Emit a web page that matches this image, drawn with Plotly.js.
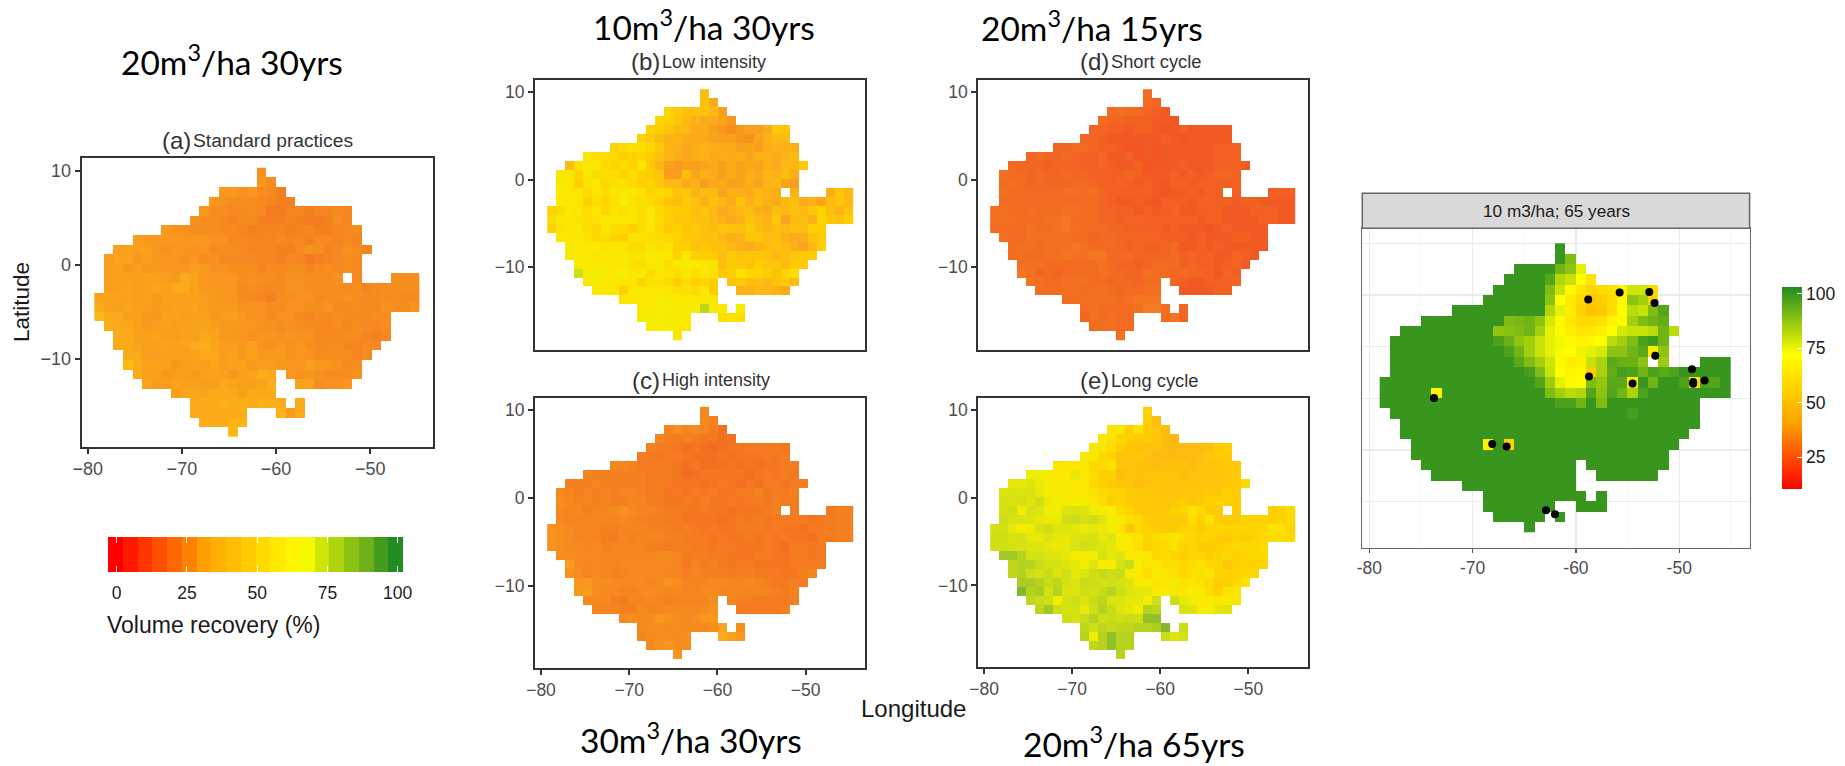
<!DOCTYPE html>
<html><head><meta charset="utf-8">
<script src="https://cdn.plot.ly/plotly-3.0.1.min.js"></script>
<style>html,body{margin:0;padding:0;background:#fff}#chart{width:1845px;height:766px}</style>
</head><body><div id="chart"></div>
<script>
// Occupied columns per row (top to bottom) on the 34 x 28 grid of tiles
const rowSpans=[[[17,17]],[[17,18]],[[13,19]],[[12,20]],[[11,26]],[[10,26]],[[7,27]],[[4,27]],[[2,28]],[[1,27]],[[1,27]],[[1,25],[27,27],[31,33]],[[1,33]],[[0,33]],[[0,33]],[[0,30]],[[1,30]],[[2,30]],[[2,29]],[[3,28]],[[3,27]],[[4,18],[20,27]],[[5,18],[21,26]],[[8,18]],[[10,19],[21,21]],[[10,15],[19,21]],[[11,15]],[[14,14]]];
const rowSpansF=[[[17,17]],[[17,18]],[[13,19]],[[12,20]],[[11,26]],[[10,26]],[[7,27]],[[4,27]],[[2,28]],[[1,27]],[[1,27]],[[1,25],[27,27],[31,33]],[[1,33]],[[0,33]],[[0,33]],[[0,30]],[[1,30]],[[2,30]],[[2,29]],[[3,28]],[[3,27]],[[4,18],[20,27]],[[5,18],[21,26]],[[8,18]],[[10,19],[21,21]],[[10,16],[19,21]],[[11,15],[17,17]],[[14,14]]];

const standardRows=[
[29],[30,28],[31,31,29,30,28,27,25],[30,29,28,28,28,27,26,25,25],
[30,28,28,27,27,28,27,24,24,26,26,25,26,26,27,26],
[29,28,28,27,26,27,27,25,25,25,26,25,24,24,25,28,26],
[31,29,29,28,28,28,27,27,26,25,26,26,26,25,26,27,25,25,26,27,28],
[32,31,30,31,31,30,30,31,29,29,27,27,26,26,26,27,26,27,25,27,27,26,27,26],
[33,33,32,33,31,29,30,30,29,30,27,28,28,27,26,26,26,25,25,27,29,28,26,27,29,28,26],
[32,34,34,31,32,30,31,30,29,30,28,29,27,27,27,27,26,26,25,27,26,24,25,26,27,28,27],
[32,33,31,32,30,31,30,30,31,32,31,29,29,28,28,28,26,27,27,28,28,26,27,28,27,28,27],
[32,33,33,32,33,33,32,31,35,34,31,30,30,30,28,29,28,28,27,29,29,28,28,28,29,27,28,28,28],
[32,33,34,32,33,34,33,35,36,33,31,31,31,30,27,28,27,27,27,29,29,28,28,28,28,27,28,26,27,28,28,28,28],
[34,34,34,33,32,33,31,33,33,33,33,32,31,30,30,28,27,26,25,28,28,29,29,27,28,28,29,28,27,27,28,28,27,27],
[35,34,33,34,33,32,31,32,33,33,34,32,31,31,31,29,29,29,28,28,29,29,28,28,29,27,27,28,27,27,29,28,28,29],
[40,36,35,33,33,31,30,33,33,32,33,33,31,32,32,31,29,29,27,29,29,27,26,27,27,28,27,27,27,28,28],
[37,35,35,33,31,32,33,32,33,34,34,32,31,31,30,30,29,29,28,29,28,27,27,27,28,26,28,27,27,28],
[36,35,33,33,34,32,32,33,33,35,34,31,31,30,29,30,30,29,30,29,29,27,27,27,28,28,26,25,27],
[36,36,34,33,33,34,33,34,36,37,34,32,32,31,33,29,29,30,29,30,28,27,27,28,26,26,27,27],
[36,35,32,32,33,33,33,34,35,35,32,33,31,33,31,31,31,29,30,29,28,28,28,28,26,27],
[41,36,34,34,33,31,32,33,32,34,32,33,33,31,32,32,31,30,30,32,31,30,29,27,28],
[36,33,33,31,32,32,31,33,34,33,30,33,34,37,35,30,29,30,29,27,28,28,29],
[34,32,32,33,33,33,32,33,35,34,33,33,34,37,33,33,28,29,29,30],
[32,34,35,34,36,36,35,33,36,36,36],
[35,36,36,37,36,37,36,38,37,36,35],
[36,36,35,36,36,37,38,32,35],
[37,36,36,38,39],[41]];

const lowRows=[
[42],[43,36],[52,47,43,43,44,40,33],[53,50,46,41,38,36,36,33,30],
[51,49,46,41,41,36,36,33,30,28,31,33,33,36,47,45],
[52,47,42,38,39,36,35,35,34,33,33,30,29,34,38,41,41],
[52,55,57,56,53,47,39,38,35,37,38,37,36,36,33,34,32,37,38,38,37],
[60,57,56,55,50,52,53,48,43,39,37,35,37,38,36,37,35,37,34,38,38,36,38,42],
[41,58,62,60,55,52,56,50,60,47,39,33,31,33,32,34,36,33,35,33,35,34,37,36,41,39,47],
[60,60,52,59,55,57,56,52,57,52,48,46,32,32,42,34,38,36,33,36,34,37,35,40,38,42,37],
[62,60,50,58,60,54,57,58,54,50,52,46,40,41,36,38,32,35,35,33,34,37,34,38,40,34,32],
[63,62,61,56,60,56,60,62,60,58,51,54,52,45,46,38,42,40,34,38,37,36,40,38,37,38,37,45,40],
[63,63,60,50,56,52,58,63,58,57,55,50,45,42,48,43,38,44,40,36,45,37,42,38,36,40,42,36,38,34,42,46,40],
[52,55,60,60,56,60,53,60,56,60,57,60,53,50,48,48,42,45,40,36,38,40,42,37,36,42,40,43,40,46,50,42,38,43],
[55,62,60,58,57,58,60,60,62,60,55,60,55,50,46,47,44,43,40,38,36,38,44,40,38,46,34,41,42,38,52,46,44,50],
[52,58,60,62,57,53,60,56,55,50,56,60,53,48,50,46,47,43,42,44,45,43,47,42,39,42,40,44,42,50,50],
[63,62,60,58,53,56,52,50,58,58,57,55,53,52,47,46,44,44,40,37,38,46,45,42,42,38,36,37,44,48],
[65,63,62,63,58,60,60,55,55,60,57,58,50,50,44,47,44,44,40,38,36,38,42,44,41,37,34,40,50],
[64,65,63,60,62,60,62,58,60,63,60,62,52,62,50,48,48,42,48,44,46,46,44,40,42,45,47,48],
[62,63,62,62,60,62,58,56,62,60,56,62,63,62,60,58,42,48,47,44,50,46,46,42,48,48],
[75,66,68,62,63,66,62,63,55,60,60,57,60,56,60,58,48,50,58,54,52,48,44,52,56],
[62,63,63,60,60,60,52,58,58,55,50,55,50,52,50,45,47,42,43,40,44,48,42],
[62,62,62,50,62,63,62,62,60,57,57,55,60,48,38,38,40,40,38,36],
[60,60,62,63,66,65,63,62,62,60,60],
[63,64,66,66,65,64,66,78,64,60,68],
[68,66,66,68,66,64,57,58,57],
[65,66,66,64,62],[60]];

const highRows=[
[27],[27,25],[26,28,26,27,26,24,22],[26,25,24,25,24,23,23,22,22],
[25,24,24,23,22,23,22,21,22,23,23,24,24,24,24,23],
[24,24,23,24,24,23,22,22,22,23,22,23,23,23,24,23,24],
[26,26,25,24,24,24,24,23,22,23,22,22,22,23,22,23,22,23,23,24,24],
[26,25,25,25,25,25,25,24,24,24,23,21,22,23,23,23,23,23,22,23,24,23,24,23],
[25,25,25,26,25,25,25,25,25,24,25,24,23,23,23,22,23,24,23,22,23,22,24,24,23,24,24],
[27,26,25,26,25,26,25,26,26,25,24,25,23,24,23,24,23,24,23,23,24,24,25,23,24,24,25],
[28,27,26,26,25,26,25,25,26,26,24,24,23,23,24,23,25,23,23,24,23,24,24,23,25,24,24],
[27,26,27,25,26,26,27,29,27,26,26,25,24,24,23,23,24,23,23,22,23,23,23,24,25,24,24,25,25],
[27,26,26,26,26,26,26,27,26,25,25,25,24,24,23,23,23,23,22,23,24,23,24,23,24,24,24,24,23,24,24,25,25],
[29,28,27,26,26,26,25,25,26,26,26,25,25,25,24,25,24,23,24,23,23,24,24,24,23,24,23,23,22,24,24,24,25,25],
[29,28,27,26,26,26,25,24,26,25,26,26,26,25,25,24,24,24,23,24,23,23,24,23,24,23,24,23,23,22,24,24,25,25],
[29,28,27,27,26,27,25,26,26,26,26,25,25,24,25,25,24,24,23,24,24,23,23,23,24,23,22,24,24,23,24],
[28,28,27,27,27,26,26,26,26,26,26,27,27,26,24,25,25,24,24,23,23,23,24,24,23,23,24,24,23,24],
[32,27,26,27,26,26,27,27,27,27,27,27,26,24,26,24,25,24,23,24,24,23,23,23,23,24,24,24,24],
[29,28,26,27,26,25,26,27,27,27,27,26,26,25,26,25,25,25,24,25,25,24,24,24,23,23,25,26],
[30,31,28,28,27,27,27,27,26,27,29,28,26,26,26,27,27,26,26,27,26,25,24,24,25,24],
[31,32,28,27,27,26,26,27,28,27,26,27,26,26,27,27,26,26,26,26,26,26,25,24,25],
[27,27,27,25,24,26,26,27,26,25,26,26,26,26,28,26,25,25,24,24,24,24,25],
[26,26,26,25,25,27,26,26,27,27,27,27,28,29,24,24,24,24,24,25],
[27,28,27,28,30,29,28,27,28,30,30],
[27,28,28,27,28,27,27,27,28,34,28],
[26,27,28,28,27,28,36,33,30],
[27,29,30,28,28],[29]];

const shortRows=[
[21],[21,20],[21,22,21,21,20,19,18],[21,20,20,19,19,19,18,18,17],
[20,20,19,19,18,19,19,18,17,18,19,18,18,18,18,18],
[20,20,19,18,18,18,18,18,18,19,18,17,18,18,18,18,18],
[20,20,21,21,20,19,19,18,17,17,18,17,18,18,18,18,18,18,19,19,19],
[20,21,20,20,21,20,19,19,20,18,18,19,17,18,17,18,18,18,18,18,18,19,19,19],
[21,20,20,20,19,20,20,20,19,19,20,19,18,18,19,17,18,18,18,19,18,18,18,19,19,19,18],
[22,21,21,20,21,20,20,21,20,20,19,19,19,19,20,19,18,18,18,19,18,19,18,19,20,20,19],
[21,22,21,20,21,20,20,20,21,21,20,19,19,20,19,18,19,18,17,19,19,18,19,19,19,19,19],
[22,21,21,21,21,21,21,22,22,21,22,20,19,19,19,19,19,18,17,18,18,19,18,19,19,19,19,19,19],
[21,21,21,21,21,21,21,21,21,21,21,20,19,18,18,19,18,17,19,19,19,18,19,19,19,19,18,19,19,18,18,18,18],
[22,22,21,21,22,21,21,21,22,22,21,21,20,20,19,19,18,19,18,19,20,18,18,19,19,19,18,18,18,19,19,19,18,18],
[22,22,22,21,21,21,22,22,23,21,21,21,20,20,19,20,20,19,19,19,19,19,19,18,19,19,18,18,18,18,19,19,18,18],
[21,21,21,21,22,21,21,22,23,22,21,21,21,20,20,19,19,19,19,18,19,18,18,18,17,18,19,18,18,18,18],
[22,21,21,22,22,22,22,22,21,21,20,21,21,20,20,20,20,20,19,19,19,18,19,18,18,18,19,19,18,18],
[21,22,22,21,22,22,22,23,22,21,21,21,20,19,20,19,19,20,21,18,18,19,18,19,18,18,18,18,18],
[21,22,21,21,22,22,23,22,22,23,23,21,21,21,20,20,20,20,21,19,20,19,19,18,18,20,19,18],
[22,22,22,21,21,21,21,21,21,22,21,20,20,19,20,21,21,21,19,20,19,19,18,19,20,18],
[23,22,20,21,20,21,21,21,21,22,21,21,20,20,22,21,21,20,21,20,20,19,18,20,19],
[22,22,21,21,22,22,22,21,21,20,21,21,20,21,21,20,19,18,18,19,19,19,20],
[21,21,21,22,22,21,22,22,21,20,21,21,22,22,18,18,18,18,19,19],
[21,21,22,22,22,22,21,22,23,23,23],
[21,22,21,21,21,21,22,24,24,22,20],
[20,22,21,22,21,21,21,23,20],
[21,22,22,21,21],[22]];

const longRows=[
[50],[50,42],[60,60,50,58,48,46,42],[60,58,52,50,48,49,45,42,40],
[61,60,56,50,46,44,44,46,42,40,42,41,42,43,48,50],
[62,60,55,52,44,45,47,44,42,41,41,41,42,43,47,47,48],
[60,60,62,60,54,55,58,46,44,44,43,42,43,44,44,42,44,45,46,47,47],
[68,68,64,62,64,70,62,56,50,50,42,44,44,44,44,45,44,42,44,45,44,44,46,48],
[70,70,72,69,66,64,62,62,62,55,50,48,46,45,42,44,46,44,45,44,44,45,44,44,46,48,54],
[72,73,72,73,70,67,66,64,62,62,58,54,52,52,48,47,46,46,45,45,44,47,46,47,46,50,48],
[74,73,74,72,75,69,67,66,67,65,62,55,50,52,48,49,49,46,46,47,49,46,48,50,50,50,49],
[74,75,68,73,72,68,68,72,73,72,68,63,63,54,52,48,47,47,47,50,52,58,54,47,47,48,49,52,55],
[75,73,73,72,70,69,69,75,76,74,75,72,67,64,57,54,49,47,47,47,47,56,50,58,49,47,47,52,52,52,50,52,54],
[74,74,70,66,68,73,75,72,72,70,69,70,70,67,59,46,53,51,49,47,47,51,51,49,52,53,52,52,51,52,53,58,58,52],
[75,75,73,74,70,70,72,70,69,72,73,74,70,72,64,61,59,52,56,58,60,55,53,51,51,49,47,52,49,52,54,56,56,54],
[75,75,74,73,72,72,70,69,70,73,75,74,72,70,65,63,57,50,53,56,58,51,53,48,48,49,51,54,53,53,56],
[84,84,80,74,74,72,72,70,64,62,68,73,70,72,63,63,60,53,55,51,50,53,53,49,52,55,50,51,53,54],
[78,80,80,76,74,74,72,70,67,72,64,65,74,76,66,59,60,57,56,53,57,58,54,53,46,49,51,51,51],
[78,80,75,74,76,72,75,70,72,75,77,75,76,67,63,56,64,60,58,53,58,57,60,52,51,51,54,53],
[82,82,80,76,78,74,72,76,75,74,75,74,72,63,63,59,62,68,59,60,58,55,48,50,53,58],
[88,80,82,74,80,72,72,75,74,76,80,75,72,70,70,63,66,61,62,66,64,55,50,58,60],
[78,76,75,67,74,75,72,76,78,72,72,70,70,67,75,75,70,68,63,64,62,62,60],
[78,84,75,74,74,69,75,80,76,72,70,67,80,78,73,72,63,66,70,72],
[75,74,76,80,75,76,75,76,75,86,86],
[78,75,78,77,78,78,80,80,82,88,76],
[80,68,80,86,80,80,76,72,74],
[78,80,86,80,80],[80]];

const tenRows=[
[100],[100,90],[100,100,100,100,92,88,76],[100,100,100,100,96,83,80,72,63],
[100,100,100,100,100,90,80,70,63,58,60,62,68,79,79,60],
[100,100,100,100,100,100,88,72,65,59,53,55,60,70,88,85,56],
[100,100,100,100,100,100,100,100,100,83,76,66,57,52,54,61,71,82,80,90,96],
[100,100,100,100,100,100,100,100,90,91,92,88,78,70,64,60,59,62,68,73,85,90,92,94],
[100,100,100,100,100,100,100,100,100,88,89,90,92,85,76,70,66,63,64,67,72,78,80,80,82,92,82],
[100,100,100,100,100,100,100,100,100,100,97,93,88,85,80,76,74,69,68,69,72,82,85,90,97,99,92],
[100,100,100,100,100,100,100,100,100,100,100,97,92,85,80,76,73,71,75,76,78,88,88,92,95,65,88],
[100,100,100,100,100,100,100,100,100,100,100,100,95,90,85,79,70,66,67,80,84,95,93,93,88,86,100,100,100],
[100,100,100,100,100,100,100,100,100,100,100,100,100,98,90,80,72,68,70,55,84,94,98,97,92,97,95,97,100,100,100,100,100],
[100,100,100,100,100,100,100,100,100,100,100,100,100,100,100,96,86,76,70,71,90,87,95,95,65,100,92,100,100,97,62,97,96,100],
[100,100,100,100,100,68,100,100,100,100,100,100,100,100,100,100,90,85,82,83,96,88,96,92,84,97,100,100,100,100,100,100,100,100],
[100,100,100,100,100,100,100,100,100,100,100,100,100,100,100,100,100,97,97,92,100,90,100,100,100,100,100,100,100,100,100],
[100,100,100,100,100,100,100,100,100,100,100,100,100,100,100,100,100,100,100,100,100,100,100,98,100,100,100,100,100,100],
[100,100,100,100,100,100,100,100,100,100,100,100,100,100,100,100,100,100,100,100,100,100,100,100,100,100,100,100,100],
[100,100,100,100,100,100,100,100,100,100,100,100,100,100,100,100,100,100,100,100,100,100,100,100,100,100,100,100],
[100,100,100,100,100,100,100,68,100,58,100,100,100,100,100,100,100,100,100,100,100,100,100,100,100,100],
[100,100,100,100,100,100,100,100,100,100,100,100,100,100,100,100,100,100,100,100,100,100,100,100,100],
[100,100,100,100,100,100,100,100,100,100,100,100,100,100,100,100,100,100,100,100,100,100,100],
[100,100,100,100,100,100,100,100,100,100,100,100,100,100,100,100,100,100,100,100],
[100,100,100,100,100,100,100,100,100,100,100],
[100,100,100,100,100,100,100,100,100,100,100],
[100,100,100,100,100,100,100,100,100,100],
[100,100,100,100,100,100],[100]];

const siteLon=[-58.81,-55.77,-52.90,-52.39,-52.32,-48.77,-48.65,-48.65,-47.55,-58.74,-54.52,-73.74,-68.10,-66.71,-62.90,-62.03];
const siteLat=[4.55,5.23,5.29,4.23,-0.90,-2.19,-3.42,-3.61,-3.29,-2.90,-3.58,-4.97,-9.42,-9.68,-15.84,-16.23];

const legendBins=[0,5,11,16,21,26,32,37,42,47,53,58,63,68,74,79,84,89,95,100];
const legendTicks=[0,25,50,75,100];
const lonTicks=[-80,-70,-60,-50];
const latTicks=[10,0,-10];

const W=1845,H=766;
const RYGG=[[0,'#ff0000'],[1/3,'#ffa500'],[2/3,'#ffff00'],[1,'#228b22']];
const TILES=[[0,'#ff0000'],[0.18,'#f15a22'],[0.22,'#f37021'],[0.24,'#f47b20'],[0.28,'#f68e1e'],[0.32,'#f99d1c'],[0.35,'#fba81a'],[0.40,'#fdb813'],[0.50,'#ffd000'],[0.60,'#fbe600'],[0.667,'#f6ee00'],[0.75,'#cfdf16'],[0.85,'#9bc426'],[0.92,'#66a832'],[1,'#228b22']];
const FONT='"Liberation Sans",Arial,sans-serif';
const TICK='#4d4d4d';
const px=(x)=>x/W, py=(y)=>1-y/H;

function grid(rows,spans){
  return rows.map((vals,r)=>{
    const out=new Array(34).fill(null);let i=0;
    spans[r].forEach(([a,b])=>{for(let c=a;c<=b;c++){out[c]=vals[i++];}});
    return out;
  }).reverse();
}

const layout={width:W,height:H,margin:{l:0,r:0,t:0,b:0},paper_bgcolor:'#fff',plot_bgcolor:'#fff',showlegend:false,
  font:{family:FONT,color:TICK},annotations:[],shapes:[]};
const traces=[];

function axes(n,box,xr,yr,showX,showY,fs){
  const sfx=n===1?'':n;
  layout['xaxis'+sfx]={domain:[px(box[0]),px(box[1])],range:xr,anchor:'y'+sfx,showgrid:false,zeroline:false,showline:true,mirror:true,linecolor:'#333',linewidth:2,
    tickmode:'array',tickvals:showX?lonTicks:[],ticks:showX?'outside':'',ticklen:5,tickwidth:2,tickcolor:'#333',showticklabels:showX,tickfont:{family:FONT,size:fs,color:TICK}};
  layout['yaxis'+sfx]={domain:[py(box[3]),py(box[2])],range:yr,anchor:'x'+sfx,showgrid:false,zeroline:false,showline:true,mirror:true,linecolor:'#333',linewidth:2,
    tickmode:'array',tickvals:showY?latTicks:[],ticks:showY?'outside':'',ticklen:5,tickwidth:2,tickcolor:'#333',showticklabels:showY,tickfont:{family:FONT,size:fs,color:TICK}};
  return {xaxis:'x'+sfx,yaxis:'y'+sfx};
}
function panel(n,rows,box,xr,yr,showX,showY,geo,fs){
  const a=axes(n,box,xr,yr,showX,showY,fs);
  traces.push(Object.assign({type:'heatmap',z:grid(rows,rowSpans),x0:geo.x0,dx:geo.dx,y0:geo.y0,dy:geo.dy,zmin:0,zmax:100,colorscale:TILES,showscale:false,hoverongaps:false},a));
}
const geoA={x0:-78.79,dx:1.0144,y0:-17.79,dy:1.022};
const geoB={x0:-78.79,dx:1.019,y0:-17.81,dy:1.024};

panel(1,standardRows,[81.7,432.7,158.3,446.7],[-80.64,-43.36],[-19.36,11.32],true,true,geoA,18);
panel(2,lowRows,[535,865,80,350],[-80.68,-43.28],[-19.45,11.41],false,true,geoB,17.5);
panel(3,highRows,[535,865,398.3,667.7],[-80.68,-43.28],[-19.33,11.33],true,true,geoB,17.5);
panel(4,shortRows,[978.3,1307.7,80,350],[-80.65,-43.26],[-19.45,11.41],false,true,geoB,17.5);
panel(5,longRows,[978.3,1307.7,398.3,667.3],[-80.65,-43.26],[-19.33,11.33],true,true,geoB,17.5);

// Panel f: facetted map with sites and its own colour bar
layout.xaxis6={domain:[px(1362.3),px(1749.6)],range:[-80.68,-43.19],anchor:'y6',zeroline:false,showline:true,mirror:true,linecolor:'#666',linewidth:1.5,
  showgrid:true,gridcolor:'#ebebeb',gridwidth:1.3,minor:{dtick:5,showgrid:true,gridcolor:'#f2f2f2',gridwidth:0.8},
  tickmode:'array',tickvals:lonTicks,ticktext:lonTicks.map(String),ticks:'outside',ticklen:4,tickwidth:1.2,tickcolor:'#555',tickfont:{family:FONT,size:17.5,color:TICK}};
layout.yaxis6={domain:[py(547.7),py(228.3)],range:[-19.47,11.45],anchor:'x6',zeroline:false,showline:true,mirror:true,linecolor:'#666',linewidth:1.5,
  showgrid:true,gridcolor:'#ebebeb',gridwidth:1.3,tickmode:'array',tickvals:[-15,-10,-5,0,5,10],showticklabels:false,ticks:''};
traces.push({type:'heatmap',xaxis:'x6',yaxis:'y6',z:grid(tenRows,rowSpansF),x0:-78.5,dx:1,y0:-17.5,dy:1,zmin:10.5,zmax:103,colorscale:RYGG,hoverongaps:false,showscale:true,
  colorbar:{x:px(1782.3),xanchor:'left',y:py(489),yanchor:'bottom',len:201.7,lenmode:'pixels',thickness:20.4,thicknessmode:'pixels',xpad:0,ypad:0,outlinewidth:0,
    tickmode:'array',tickvals:[25,50,75,100],ticks:'inside',ticklen:5,tickcolor:'#fff',tickwidth:1,tickfont:{family:FONT,size:17.5,color:'#1a1a1a'}}});
traces.push({type:'scatter',mode:'markers',xaxis:'x6',yaxis:'y6',x:siteLon,y:siteLat,marker:{color:'#000',size:8},cliponaxis:false});

// Stepped legend under panel a
layout.xaxis7={domain:[px(108),px(403)],range:[-3.1,101.9],anchor:'y7',showgrid:false,zeroline:false,showline:false,mirror:'ticks',
  tickmode:'array',tickvals:legendTicks,ticks:'inside',ticklen:6,tickwidth:1,tickcolor:'#fff',ticklabelstandoff:8,tickfont:{family:FONT,size:17.5,color:'#222'}};
layout.yaxis7={domain:[py(572),py(537)],range:[0,1],anchor:'x7',showgrid:false,zeroline:false,showticklabels:false,ticks:''};
traces.push({type:'heatmap',xaxis:'x7',yaxis:'y7',z:[legendBins],x0:-0.47,dx:5.25,y:[0.5],zmin:0,zmax:100,colorscale:RYGG,showscale:false});

function note(text,x,y,size,color,anchor,family,angle){
  layout.annotations.push({xref:'paper',yref:'paper',x:px(x),y:py(y),text,showarrow:false,xanchor:anchor||'center',yanchor:'middle',
    font:{family:family||FONT,size,color:color||'#1a1a1a'},textangle:angle||0,borderpad:0,borderwidth:0});
}
const BIG='Lato,"Open Sans",sans-serif';
[['20m<sup>3</sup>/ha 30yrs',232,60],['10m<sup>3</sup>/ha 30yrs',704,25],['20m<sup>3</sup>/ha 15yrs',1092,26],['30m<sup>3</sup>/ha 30yrs',691,738],['20m<sup>3</sup>/ha 65yrs',1134,742]]
  .forEach(t=>note(t[0],t[1],t[2],33.5,'#000','center',BIG));
[['(a)','Standard practices',191,141,19.2],['(b)','Low intensity',660,62,18],['(c)','High intensity',660,380,18],['(d)','Short cycle',1109,62,18.3],['(e)','Long cycle',1109,380,18.3]]
  .forEach(t=>{note(t[0],t[2],t[3],24,'#333','right');note(t[1],t[2]+2,t[3],t[4],'#333','left');});
note('Latitude',21,302,22.5,'#1a1a1a','center',FONT,-90);
note('Longitude',913,708,24,'#1a1a1a');
note('Volume recovery (%)',213,625,23,'#1a1a1a');
note('10 m3/ha; 65 years',1556,211,17.2,'#1a1a1a');
layout.shapes.push({type:'rect',xref:'paper',yref:'paper',x0:px(1362.3),x1:px(1749.6),y0:py(228.3),y1:py(193.3),fillcolor:'#d9d9d9',line:{color:'#666',width:1.5}});

Plotly.newPlot('chart',traces,layout,{staticPlot:true,displayModeBar:false});
</script></body></html>
